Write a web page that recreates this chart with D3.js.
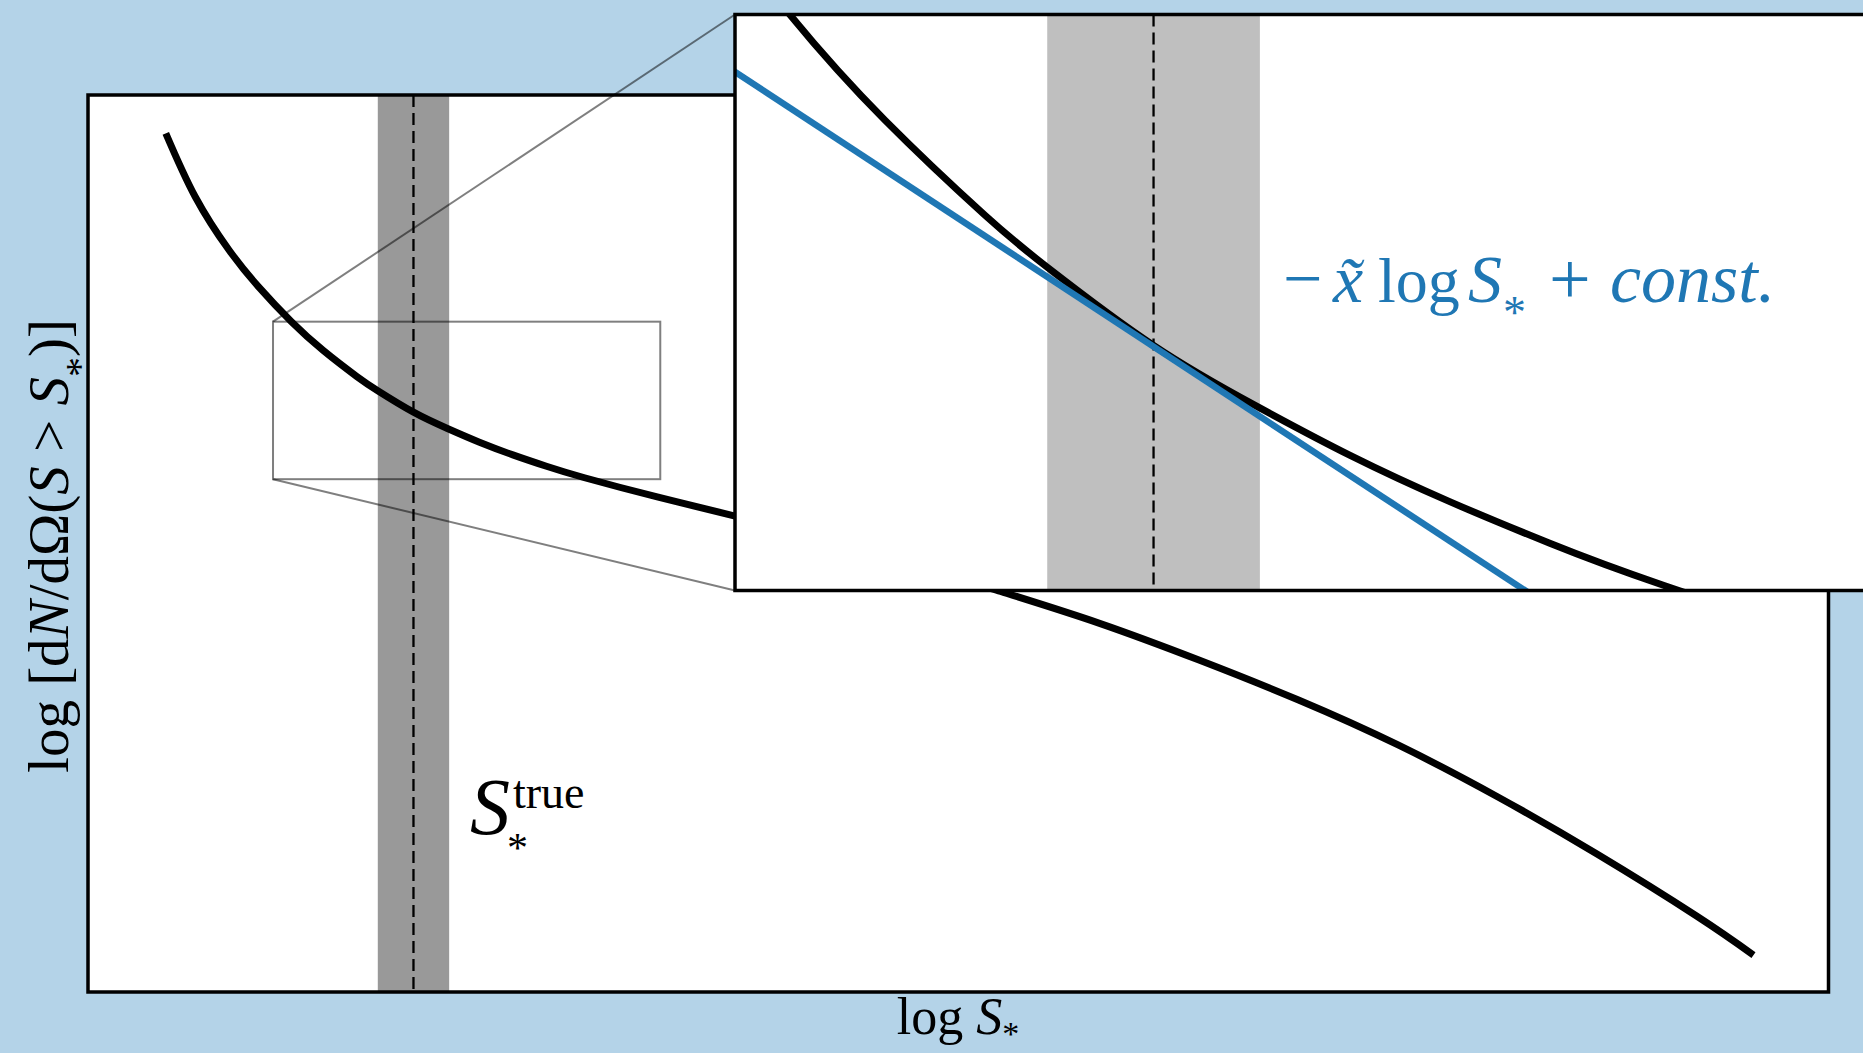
<!DOCTYPE html>
<html>
<head>
<meta charset="utf-8">
<script src="https://cdn.jsdelivr.net/npm/d3@7"></script>
<style>
  body { margin: 0; background: #b4d3e8; }
  svg { display: block; }
  text { font-family: "Liberation Serif", "DejaVu Serif", serif; }
</style>
</head>
<body>
<script>
// values (arbitrary log units, axes go 0..10)
var logS = [0.447, 0.616, 0.810, 0.979, 1.169, 1.352, 1.545, 1.667, 1.870, 2.065,
            2.249, 2.441, 2.634, 2.853, 3.276, 3.712, 4.476, 5.244, 5.812, 6.383,
            6.955, 7.527, 8.098, 8.670, 9.242, 9.569];
var logN = [9.573, 8.866, 8.272, 7.863, 7.472, 7.151, 6.861, 6.700, 6.464, 6.282,
            6.129, 5.988, 5.861, 5.733, 5.516, 5.309, 4.916, 4.465, 4.110, 3.701,
            3.255, 2.754, 2.177, 1.538, 0.847, 0.412];

// true break flux and its band
var sTrue = 1.87;
var sTrueBand = [1.665, 2.075];

// tangent (power law) at the true value
var tangentX = [0.9, 3.0];
var tangentY = [7.467, 5.288];

// region shown in the zoom
var zoomX = [1.063, 3.288];
var zoomY = [5.717, 7.473];

var width = 1863;
var height = 1053;

var svg = d3.select("body").append("svg")
    .attr("width", width)
    .attr("height", height);

var defs = svg.append("defs");

// main axes
var x = d3.scaleLinear().domain([0, 10]).range([88, 1828.5]);
var y = d3.scaleLinear().domain([0, 10]).range([992, 95]);

// inset axes (runs off the right edge, like the original)
var xi = d3.scaleLinear().domain(zoomX).range([735, 1889]);
var yi = d3.scaleLinear().domain(zoomY).range([590.5, 14.5]);

var pts = logS.map(function(d, i) { return [d, logN[i]]; });

function panel(id, xs, ys, bandColor) {
  var x0 = xs.range()[0], x1 = xs.range()[1];
  var y0 = ys.range()[1], y1 = ys.range()[0];

  defs.append("clipPath").attr("id", id)
    .append("rect")
      .attr("x", x0).attr("y", y0)
      .attr("width", x1 - x0).attr("height", y1 - y0);

  var g = svg.append("g");
  g.append("rect")
    .attr("x", x0).attr("y", y0)
    .attr("width", x1 - x0).attr("height", y1 - y0)
    .attr("fill", "#fff");

  var c = g.append("g").attr("clip-path", "url(#" + id + ")");

  c.append("rect")
    .attr("x", xs(sTrueBand[0]))
    .attr("y", y0)
    .attr("width", xs(sTrueBand[1]) - xs(sTrueBand[0]))
    .attr("height", y1 - y0)
    .attr("fill", bandColor);

  c.append("line")
    .attr("x1", xs(sTrue)).attr("x2", xs(sTrue))
    .attr("y1", y0).attr("y2", y1)
    .attr("stroke", "#000")
    .attr("stroke-width", 2.3)
    .attr("stroke-dasharray", "12,6");

  var line = d3.line()
    .x(function(d) { return xs(d[0]); })
    .y(function(d) { return ys(d[1]); })
    .curve(d3.curveNatural);

  c.append("path")
    .datum(pts)
    .attr("d", line)
    .attr("fill", "none")
    .attr("stroke", "#000")
    .attr("stroke-width", 7);

  return {g: g, c: c, x0: x0, x1: x1, y0: y0, y1: y1};
}

function frame(p) {
  p.g.append("rect")
    .attr("x", p.x0).attr("y", p.y0)
    .attr("width", p.x1 - p.x0).attr("height", p.y1 - p.y0)
    .attr("fill", "none")
    .attr("stroke", "#000")
    .attr("stroke-width", 3.5);
}

// ---- main panel
var m = panel("clipMain", x, y, "#999999");

// zoom box
m.c.append("rect")
  .attr("x", x(zoomX[0]))
  .attr("y", y(zoomY[1]))
  .attr("width", x(zoomX[1]) - x(zoomX[0]))
  .attr("height", y(zoomY[0]) - y(zoomY[1]))
  .attr("fill", "none")
  .attr("stroke", "#000")
  .attr("stroke-opacity", 0.5)
  .attr("stroke-width", 2);

// S_*^true label
var st = svg.append("g");
st.append("text")
  .attr("x", 470).attr("y", 834)
  .attr("font-size", 80)
  .attr("font-style", "italic")
  .text("S");
st.append("text")
  .attr("x", 513).attr("y", 808)
  .attr("font-size", 46)
  .text("true");
st.append("text")
  .attr("x", 507).attr("y", 862)
  .attr("font-size", 42)
  .text("*");

frame(m);

// axis labels
var xl = svg.append("text")
  .attr("x", 958).attr("y", 1034)
  .attr("text-anchor", "middle")
  .attr("font-size", 52);
xl.append("tspan").text("log ");
xl.append("tspan").attr("font-style", "italic").text("S");
xl.append("tspan").attr("font-size", 34).attr("dy", 11).text("*");

var yl = svg.append("text")
  .attr("transform", "translate(68,546) rotate(-90)")
  .attr("text-anchor", "middle")
  .attr("font-size", 57);
yl.append("tspan").text("log [d");
yl.append("tspan").attr("font-style", "italic").text("N");
yl.append("tspan").text("/dΩ(");
yl.append("tspan").attr("font-style", "italic").text("S");
yl.append("tspan").text(" > ");
yl.append("tspan").attr("font-style", "italic").text("S");
yl.append("tspan").attr("font-size", 40).attr("dy", 25).text("*");
yl.append("tspan").attr("dy", -25).text(")]");

// connectors from the zoom box to the inset
var conn = [
  [[zoomX[0], zoomY[1]], [xi.range()[0], yi.range()[1]]],
  [[zoomX[0], zoomY[0]], [xi.range()[0], yi.range()[0]]]
];
svg.append("g").selectAll("line")
  .data(conn)
  .enter().append("line")
    .attr("x1", function(d) { return x(d[0][0]); })
    .attr("y1", function(d) { return y(d[0][1]); })
    .attr("x2", function(d) { return d[1][0]; })
    .attr("y2", function(d) { return d[1][1]; })
    .attr("stroke", "#000")
    .attr("stroke-opacity", 0.5)
    .attr("stroke-width", 2);

// ---- inset panel
var ins = panel("clipInset", xi, yi, "#bfbfbf");

ins.c.append("line")
  .attr("x1", xi(tangentX[0])).attr("y1", yi(tangentY[0]))
  .attr("x2", xi(tangentX[1])).attr("y2", yi(tangentY[1]))
  .attr("stroke", "#1f77b4")
  .attr("stroke-width", 6.5);

var lab = ins.g.append("g").attr("fill", "#1f77b4");
lab.append("text").attr("x", 1283).attr("y", 302).attr("font-size", 70).text("\u2212");
lab.append("text").attr("x", 1333).attr("y", 302).attr("font-size", 68)
  .attr("font-style", "italic").text("x\u0303");
lab.append("text").attr("x", 1378).attr("y", 302).attr("font-size", 64).text("log");
lab.append("text").attr("x", 1468).attr("y", 302).attr("font-size", 68)
  .attr("font-style", "italic").text("S");
lab.append("text").attr("x", 1503).attr("y", 328).attr("font-size", 46).text("*");
lab.append("text").attr("x", 1549).attr("y", 304).attr("font-size", 74).text("+");
lab.append("text").attr("x", 1610).attr("y", 302).attr("font-size", 70)
  .attr("font-style", "italic").text("const.");

frame(ins);
</script>
</body>
</html>
